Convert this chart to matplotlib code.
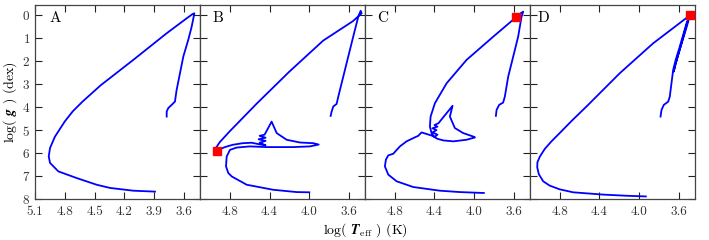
import numpy as np
import matplotlib
matplotlib.use("Agg")
import matplotlib.pyplot as plt

plt.rcParams['font.family'] = ['cmr10', 'DejaVu Serif']
plt.rcParams['mathtext.fontset'] = 'cm'
plt.rcParams['axes.formatter.use_mathtext'] = True

# ---------------- track data: (log Teff, log g) ----------------
a_logt = [3.775, 3.775, 3.759, 3.725, 3.692, 3.675, 3.641, 3.608, 3.558, 3.524, 3.500, 3.497,
          3.513, 3.574, 3.775, 4.111, 4.440, 4.620, 4.720, 4.800, 4.899, 4.949, 4.962, 4.949,
          4.865, 4.680, 4.480, 4.345, 4.111, 3.893]
a_logg = [4.41, 4.19, 4.04, 3.90, 3.76, 3.25, 2.52, 1.80, 1.07, 0.50, -0.01, -0.09,
          -0.06, 0.13, 0.78, 1.94, 3.05, 3.75, 4.18, 4.62, 5.28, 5.78, 6.15, 6.43,
          6.80, 7.09, 7.38, 7.52, 7.64, 7.68]

b_logt = [3.785, 3.775, 3.758, 3.725, 3.708, 3.658, 3.608, 3.558, 3.507, 3.483, 3.473,
          3.560, 3.860, 4.200, 4.530, 4.800, 4.900, 4.940, 4.93,
          4.85, 4.77, 4.67, 4.58, 4.50, 4.44, 4.50, 4.44, 4.51, 4.44, 4.50, 4.45,
          4.379, 4.328, 4.228, 4.094, 3.960, 3.905, 3.993, 4.161, 4.430, 4.597, 4.731,
          4.798, 4.831, 4.838, 4.815, 4.780, 4.630, 4.363, 4.127, 4.000]
b_logg = [4.38, 4.19, 3.97, 3.86, 3.54, 2.67, 1.80, 0.93, 0.06, -0.20, -0.09,
          0.25, 1.10, 2.45, 3.85, 5.05, 5.52, 5.78, 5.90,
          5.74, 5.64, 5.57, 5.55, 5.62, 5.66, 5.55, 5.47, 5.40, 5.33, 5.25, 5.20,
          4.63, 5.13, 5.42, 5.54, 5.57, 5.63, 5.71, 5.74, 5.74, 5.71, 5.76,
          5.86, 6.15, 6.58, 6.87, 7.02, 7.38, 7.60, 7.70, 7.71]

c_logt = [3.782, 3.775, 3.749, 3.709, 3.692, 3.658, 3.608, 3.558, 3.524, 3.507, 3.53,
          3.581, 3.809, 4.077, 4.278, 4.396, 4.439, 4.446, 4.43,
          4.40, 4.37, 4.42, 4.38, 4.42, 4.37, 4.40, 4.36,
          4.218, 4.245, 4.195, 4.111, 4.010, 3.993, 4.077, 4.210, 4.310, 4.370, 4.420,
          4.530, 4.564, 4.614, 4.681, 4.748, 4.815, 4.865, 4.889, 4.899, 4.865, 4.781,
          4.614, 4.345, 4.144, 3.903]
c_logg = [4.38, 4.12, 3.90, 3.80, 3.54, 2.67, 1.80, 0.93, 0.06, -0.16, -0.10,
          0.09, 0.93, 1.94, 2.96, 3.83, 4.41, 4.84, 5.13,
          5.30, 5.20, 5.10, 5.00, 4.92, 4.85, 4.78, 4.70,
          3.94, 4.41, 4.91, 5.13, 5.28, 5.32, 5.42, 5.49, 5.45, 5.38, 5.25,
          5.10, 5.25, 5.35, 5.49, 5.71, 6.03, 6.10, 6.29, 6.58, 6.94, 7.23,
          7.48, 7.64, 7.70, 7.74]

d_logt = [3.785, 3.775, 3.752, 3.708, 3.692, 3.675, 3.658, 3.630, 3.591, 3.524, 3.490,
          3.515, 3.585, 3.640, 3.652, 3.632, 3.580, 3.515, 3.490,
          3.860, 4.195, 4.530, 4.680, 4.800, 4.885, 4.950, 4.999, 5.024, 5.026, 5.010,
          4.966, 4.900, 4.800, 4.665, 4.363, 4.128, 3.933]
d_logg = [4.41, 4.12, 3.90, 3.76, 3.54, 2.96, 2.38, 1.90, 1.36, 0.35, -0.01,
          0.40, 1.40, 2.20, 2.45, 2.10, 1.30, 0.30, 0.00,
          1.22, 2.52, 3.97, 4.60, 5.13, 5.50, 5.82, 6.15, 6.40, 6.62, 6.92,
          7.23, 7.42, 7.58, 7.71, 7.81, 7.86, 7.89]

# red square markers (panel: (log Teff, log g))
marks = {'B': (4.926, 5.90), 'C': (3.581, 0.09), 'D': (3.49, 0.0)}

panels = ['A', 'B', 'C', 'D']
tracks = {'A': (a_logt, a_logg), 'B': (b_logt, b_logg),
          'C': (c_logt, c_logg), 'D': (d_logt, d_logg)}
xticks = {'A': [5.1, 4.8, 4.5, 4.2, 3.9, 3.6],
          'B': [4.8, 4.4, 4.0, 3.6], 'C': [4.8, 4.4, 4.0, 3.6], 'D': [4.8, 4.4, 4.0, 3.6]}
label_x = {'A': 4.95, 'B': 4.97, 'C': 4.98, 'D': 5.02}

fig = plt.figure(figsize=(7.09, 2.40), dpi=100)
left, right, bottom, top = 0.0494, 0.980, 0.171, 0.980
w = (right - left) / 4

for i, p in enumerate(panels):
    ax = fig.add_axes([left + i * w, bottom, w, top - bottom])
    x, y = tracks[p]
    ax.plot(x, y, color='#0000ff', lw=1.3, solid_joinstyle='round')
    if p in marks:
        mx, my = marks[p]
        ax.plot(mx, my, 's', color='red', ms=5.5, zorder=5)
    ax.set_xlim(5.1, 3.44)
    ax.set_ylim(8, -0.46)
    ax.set_xticks(xticks[p])
    ax.set_xticklabels([f'{v:.1f}' for v in xticks[p]])
    ax.set_yticks(range(0, 9))
    ax.tick_params(direction='in', top=True, right=True, length=5, width=0.8,
                   labelsize=9.5, colors='#222222', labelcolor='#333333')
    ax.tick_params(axis='x', pad=5)
    if i > 0:
        ax.tick_params(labelleft=False)
    for s in ax.spines.values():
        s.set_color('#444444')
        s.set_linewidth(0.9)
    ax.text(label_x[p], 0.1, p, fontsize=11, va='center', ha='left')
    if i == 0:
        ax.set_ylabel(r'log( $\boldsymbol{g}$ ) (dex)', fontsize=10, labelpad=2)

fig.text((left + right) / 2, 0.042, r'log( $\boldsymbol{T}_{\rm eff}$ ) (K)',
         ha='center', va='center', fontsize=10)

fig.savefig('out.png', dpi=100)
